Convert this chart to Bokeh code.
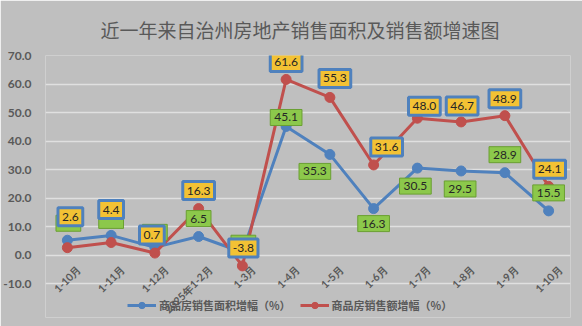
import math
from bokeh.plotting import figure
from bokeh.models import ColumnDataSource, FixedTicker, Range1d, NumeralTickFormatter, Legend, LegendItem
from bokeh.core.properties import value
from bokeh.embed import file_html
from bokeh.resources import INLINE

title_text = "近一年来自治州房地产销售面积及销售额增速图"
months = ["1-10月", "1-11月", "1-12月", "2025年1-2月", "1-3月", "1-4月",
          "1-5月", "1-6月", "1-7月", "1-8月", "1-9月", "1-10月"]
area_growth = [5.2, 6.9, 2.7, 6.5, 1.0, 45.1, 35.3, 16.3, 30.5, 29.5, 28.9, 15.5]
sales_growth = [2.6, 4.4, 0.7, 16.3, -3.8, 61.6, 55.3, 31.6, 48.0, 46.7, 48.9, 24.1]
y_ticks = [-10, 0, 10, 20, 30, 40, 50, 60, 70]
series_names = ["商品房销售面积增幅（%）", "商品房销售额增幅（%）"]

# label placement offsets (screen px) relative to each point
area_lbl_dx = [1, 0, 0, 0, 1, 0, -15, 0, -2, -1, 0, 0]
area_lbl_dy = [-17, -15, -15, -18, -9, -9, 17, 15, 18, 18, -18, -18]
area_lbl_text_alpha = [0, 0, 0, 1, 0, 1, 1, 1, 1, 1, 1, 1]
sales_lbl_dx = [3, 0, -3, 0, 1, 0, 5, 13, 7, 1, 0, 1]
sales_lbl_dy = [-31, -33, -18, -18, -18, -17, -19, -18, -12, -16, -17, -17]

BG = "#BFBFBF"
BLUE = "#4F81BD"
RED = "#C0504D"

xs = list(range(len(months)))

p = figure(width=582, height=326, output_backend="svg", toolbar_location=None,
           x_range=Range1d(-0.5, len(months) - 0.5), y_range=Range1d(-21.9, 70),
           x_axis_location=None,
           min_border_left=39, min_border_right=12, min_border_top=54, min_border_bottom=9)
p.background_fill_color = BG
p.border_fill_color = BG
p.outline_line_color = None

p.title.text = title_text
p.title.align = "left"
p.title.offset = 55
p.title.standoff = 26
p.title.text_font = "Noto Sans CJK SC"
p.title.text_font_size = "19px"
p.title.text_font_style = "normal"
p.title.text_color = "#595959"

p.xgrid.visible = False
p.yaxis.ticker = FixedTicker(ticks=y_ticks)
p.yaxis.formatter = NumeralTickFormatter(format="0.0")
p.yaxis.axis_line_color = None
p.yaxis.major_tick_line_color = None
p.yaxis.minor_tick_line_color = None
p.yaxis.major_label_standoff = 8
p.yaxis.major_label_text_font = "Lato"
p.yaxis.major_label_text_font_size = "12px"
p.yaxis.major_label_text_font_style = "bold"
p.yaxis.major_label_text_color = "#595959"
p.ygrid.grid_line_color = "#E0E0E0"
p.ygrid.grid_line_width = 1.5

src = ColumnDataSource(dict(
    x=xs, area=area_growth, sales=sales_growth,
    area_t=[f"{v:.1f}" for v in area_growth],
    sales_t=[f"{v:.1f}" for v in sales_growth],
    adx=area_lbl_dx, ady=area_lbl_dy, aal=area_lbl_text_alpha,
    sdx=sales_lbl_dx, sdy=sales_lbl_dy,
    month=months, zero=[0] * len(months)))

l1 = p.line("x", "area", source=src, line_color=BLUE, line_width=3)
m1 = p.scatter("x", "area", source=src, size=10, fill_color=BLUE, line_color=BLUE)
l2 = p.line("x", "sales", source=src, line_color=RED, line_width=3)
m2 = p.scatter("x", "sales", source=src, size=10, fill_color=RED, line_color=RED)

# category labels rotated 45 degrees (offsets are applied in the rotated frame)
p.text(x="x", y="zero", text="month", source=src, angle=math.pi / 4,
       x_offset=12, y_offset=12, text_align="right", text_baseline="middle",
       text_font=value("Lato"), text_font_size="10.5px", text_font_style="bold",
       text_color="#595959")

# data labels
p.text(x="x", y="area", text="area_t", source=src, x_offset="adx", y_offset="ady",
       text_align="center", text_baseline="middle", text_alpha="aal",
       text_font=value("Lato"), text_font_size="12px", text_color="#262626",
       background_fill_color="#8CC84B", border_line_color="#6A9F32",
       border_line_width=1, padding=(4, 4))
p.text(x="x", y="sales", text="sales_t", source=src, x_offset="sdx", y_offset="sdy",
       text_align="center", text_baseline="middle",
       text_font=value("Lato"), text_font_size="12px", text_color="#262626",
       background_fill_color="#F3C234", border_line_color=BLUE,
       border_line_width=3, padding=(4, 5))

legend = Legend(items=[LegendItem(label=series_names[0], renderers=[l1, m1]),
                       LegendItem(label=series_names[1], renderers=[l2, m2])],
                location=(82, 4), orientation="horizontal")
legend.background_fill_alpha = 0
legend.border_line_alpha = 0
legend.padding = 0
legend.margin = 0
legend.spacing = 9
legend.label_standoff = 3
legend.glyph_width = 29
legend.glyph_height = 16
legend.label_height = 16
legend.label_text_font = "Noto Sans CJK SC"
legend.label_text_font_size = "11px"
legend.label_text_font_style = "bold"
legend.label_text_color = "#595959"
p.add_layout(legend)

open("out.html", "w").write(file_html(p, INLINE))
